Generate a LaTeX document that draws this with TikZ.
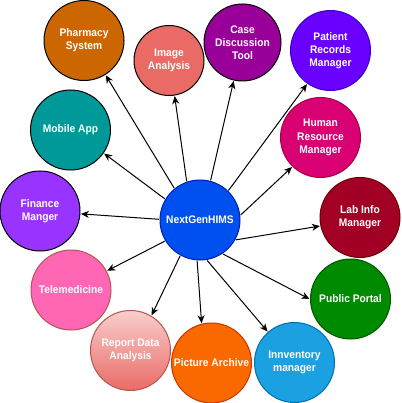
\documentclass[tikz,border=0pt]{standalone}
\usepackage{fontspec}
\setmainfont{Liberation Sans}[FakeStretch=0.93]
\usetikzlibrary{arrows.meta}
\definecolor{cPharm}{HTML}{CC6600}
\definecolor{cImg}{HTML}{EA6B66}
\definecolor{cMob}{HTML}{009999}
\definecolor{cCase}{HTML}{990099}
\definecolor{cPat}{HTML}{6A00FF}
\definecolor{cPatS}{HTML}{3700CC}
\definecolor{cHR}{HTML}{D80073}
\definecolor{cHRS}{HTML}{A50040}
\definecolor{cLab}{HTML}{A20025}
\definecolor{cLabS}{HTML}{6F0000}
\definecolor{cPub}{HTML}{008A00}
\definecolor{cPubS}{HTML}{005700}
\definecolor{cInv}{HTML}{1BA1E2}
\definecolor{cInvS}{HTML}{006EAF}
\definecolor{cPic}{HTML}{FA6800}
\definecolor{cPicS}{HTML}{C73500}
\definecolor{cRepT}{HTML}{F8CECC}
\definecolor{cRepB}{HTML}{EA6B66}
\definecolor{cRepS}{HTML}{B85450}
\definecolor{cTele}{HTML}{FF66B3}
\definecolor{cFin}{HTML}{9933FF}
\definecolor{cCen}{HTML}{0050EF}
\definecolor{cCenS}{HTML}{001DBC}
\tikzset{
  bubble/.style={circle, draw=black, line width=1pt, minimum size=80pt, inner sep=0pt, outer sep=1pt,
    text=white, font=\bfseries\fontsize{11}{13.2}\selectfont, align=center},
  link/.style={line width=1pt, draw=black, -{Stealth[length=8pt,width=7pt,inset=2.5pt]}}
}
\begin{document}
\begin{tikzpicture}[x=1pt,y=-1pt]
\useasboundingbox (0,0) rectangle (401,403);
\node[bubble, fill=cCen, draw=cCenS] (c) at (200,220) {NextGenHIMS};
\node[bubble, fill=cPharm] (pharm) at (84,40.5) {Pharmacy\\System};
\node[bubble, fill=cImg, minimum size=70pt] (img) at (169,60.5) {Image\\Analysis};
\node[bubble, fill=cMob] (mob) at (70.5,130) {Mobile App};
\node[bubble, fill=cCase, minimum size=77pt] (case) at (242.5,42.5) {Case\\Discussion\\Tool};
\node[bubble, fill=cPat, draw=cPatS] (pat) at (330.5,50.5) {Patient\\Records\\Manager};
\node[bubble, fill=cHR, draw=cHRS] (hr) at (320.5,137.5) {Human\\Resource\\Manager};
\node[bubble, fill=cLab, draw=cLabS] (lab) at (360,217.5) {Lab Info\\Manager};
\node[bubble, fill=cPub, draw=cPubS] (pub) at (350.5,299) {Public Portal};
\node[bubble, fill=cInv, draw=cInvS] (inv) at (294.5,362.5) {Innventory\\manager};
\node[bubble, fill=cPic, draw=cPicS] (pic) at (211.5,363) {Picture Archive};
\node[bubble, top color=cRepT, bottom color=cRepB, draw=cRepS] (rep) at (130.5,350.5) {Report Data\\Analysis};
\node[bubble, fill=cTele, draw=cRepS] (tele) at (71,290) {Telemedicine};
\node[bubble, fill=cFin] (fin) at (40,211) {Finance\\Manger};
\draw[link] (c.129) -- (pharm.302);
\draw[link] (c.109) -- (img.279);
\draw[link] (c.75) -- (case.257);
\draw[link] (c.46) -- (pat.235);
\draw[link] (c.7) -- (hr.226);
\draw[link] (c.-29) -- (lab.192);
\draw[link] (c.-56) -- (pub.180);
\draw[link] (c.-80) -- (inv.131);
\draw[link] (c.-94) -- (pic.104);
\draw[link] (c.241) -- (rep.59);
\draw[link] (c.211) -- (tele.28);
\draw[link] (c.179) -- (fin.356);
\draw[link] (c.149) -- (mob.325);
\end{tikzpicture}
\end{document}
